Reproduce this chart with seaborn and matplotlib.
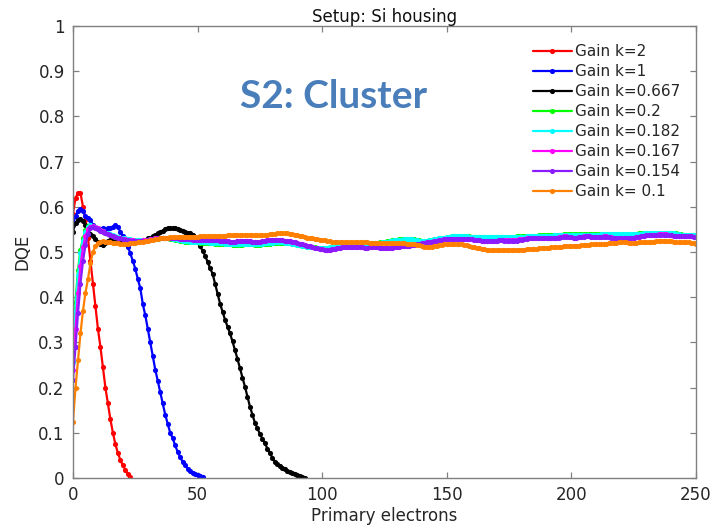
import numpy as np
import pandas as pd
import matplotlib
matplotlib.use("Agg")
import matplotlib.pyplot as plt
import seaborn as sns

# ---------------------------------------------------------------------------
# DQE versus number of primary electrons for several gain settings
# (one sample per primary electron, starting at 0)
# ---------------------------------------------------------------------------
labels = ["Gain k=2", "Gain k=1", "Gain k=0.667", "Gain k=0.2",
          "Gain k=0.182", "Gain k=0.167", "Gain k=0.154", "Gain k= 0.1"]
colors = ["#ff0000", "#0000ff", "#000000", "#00ff00",
          "#00ffff", "#ff00ff", "#8c1aff", "#ff8000"]

dqe_k2 = [0.585, 0.62, 0.63, 0.63, 0.60, 0.57, 0.53, 0.48, 0.43, 0.38,
          0.33, 0.29, 0.245, 0.20, 0.165, 0.13, 0.10, 0.075, 0.055, 0.04,
          0.028, 0.018, 0.008, 0.002]

dqe_k1 = [0.56, 0.58, 0.59, 0.595, 0.59, 0.58, 0.575, 0.57, 0.56, 0.555,
          0.55, 0.55, 0.553, 0.55, 0.552, 0.553, 0.556, 0.56, 0.555, 0.545,
          0.535, 0.525, 0.512, 0.497, 0.48, 0.463, 0.44, 0.42, 0.385, 0.36,
          0.33, 0.30, 0.27, 0.24, 0.215, 0.19, 0.165, 0.14, 0.12, 0.10,
          0.088, 0.072, 0.058, 0.046, 0.036, 0.029, 0.021, 0.015, 0.011, 0.008,
          0.006, 0.004, 0.003]

dqe_k0667 = [0.545, 0.565, 0.57, 0.572, 0.568, 0.56, 0.55, 0.54, 0.535, 0.528,
             0.522, 0.518, 0.515, 0.52, 0.524, 0.527, 0.527, 0.525, 0.523, 0.522,
             0.522, 0.521, 0.52, 0.52, 0.521, 0.522, 0.523, 0.524, 0.525, 0.527,
             0.53, 0.532, 0.535, 0.538, 0.541, 0.544, 0.547, 0.55, 0.552, 0.553,
             0.553, 0.552, 0.55, 0.548, 0.546, 0.545, 0.543, 0.541, 0.537, 0.53,
             0.522, 0.513, 0.503, 0.492, 0.478, 0.464, 0.452, 0.43, 0.408, 0.386,
             0.368, 0.35, 0.335, 0.32, 0.302, 0.283, 0.263, 0.243, 0.222, 0.202,
             0.18, 0.158, 0.14, 0.122, 0.11, 0.097, 0.087, 0.077, 0.065, 0.055,
             0.045, 0.036, 0.03, 0.026, 0.022, 0.019, 0.016, 0.013, 0.011, 0.009,
             0.007, 0.005, 0.003, 0.001]

dqe_k02 = [0.276, 0.39, 0.46, 0.505, 0.53, 0.548, 0.557, 0.56, 0.558, 0.555,
           0.552, 0.549, 0.546, 0.543, 0.54, 0.538, 0.536, 0.534, 0.532, 0.531,
           0.53, 0.529, 0.528, 0.527, 0.526, 0.525, 0.525, 0.525, 0.525, 0.525,
           0.526, 0.527, 0.528, 0.529, 0.529, 0.53, 0.53, 0.53, 0.53, 0.529,
           0.528, 0.527, 0.526, 0.525, 0.524, 0.523, 0.522, 0.522, 0.521, 0.521,
           0.521, 0.52, 0.52, 0.519, 0.519, 0.519, 0.519, 0.518, 0.518, 0.518,
           0.518, 0.517, 0.517, 0.517, 0.516, 0.516, 0.516, 0.516, 0.516, 0.517,
           0.517, 0.517, 0.517, 0.516, 0.516, 0.516, 0.517, 0.517, 0.518, 0.518,
           0.519, 0.519, 0.52, 0.52, 0.52, 0.52, 0.519, 0.519, 0.518, 0.517,
           0.516, 0.515, 0.514, 0.513, 0.512, 0.511, 0.51, 0.51, 0.509, 0.509,
           0.509, 0.509, 0.509, 0.51, 0.511, 0.512, 0.513, 0.514, 0.515, 0.515,
           0.516, 0.516, 0.516, 0.517, 0.517, 0.517, 0.517, 0.518, 0.518, 0.519,
           0.519, 0.52, 0.52, 0.521, 0.522, 0.523, 0.524, 0.525, 0.526, 0.527,
           0.527, 0.528, 0.528, 0.528, 0.528, 0.528, 0.528, 0.528, 0.527, 0.526,
           0.525, 0.525, 0.525, 0.526, 0.527, 0.528, 0.529, 0.53, 0.531, 0.532,
           0.533, 0.534, 0.535, 0.535, 0.535, 0.535, 0.535, 0.535, 0.535, 0.535,
           0.534, 0.534, 0.534, 0.534, 0.534, 0.534, 0.534, 0.534, 0.534, 0.534,
           0.534, 0.534, 0.534, 0.534, 0.534, 0.534, 0.534, 0.534, 0.535, 0.535,
           0.535, 0.535, 0.535, 0.535, 0.536, 0.536, 0.536, 0.537, 0.537, 0.537,
           0.537, 0.537, 0.537, 0.537, 0.538, 0.538, 0.538, 0.539, 0.539, 0.539,
           0.539, 0.539, 0.539, 0.539, 0.539, 0.539, 0.539, 0.539, 0.539, 0.539,
           0.539, 0.539, 0.539, 0.54, 0.54, 0.54, 0.54, 0.54, 0.54, 0.54,
           0.54, 0.54, 0.54, 0.54, 0.54, 0.54, 0.54, 0.541, 0.541, 0.541,
           0.541, 0.542, 0.542, 0.543, 0.543, 0.543, 0.543, 0.543, 0.543, 0.543,
           0.543, 0.542, 0.541, 0.54, 0.539, 0.538, 0.538, 0.538, 0.538, 0.538,
           0.538]

dqe_k0182 = [0.257, 0.37, 0.45, 0.497, 0.525, 0.545, 0.555, 0.559, 0.558, 0.555,
             0.552, 0.549, 0.546, 0.543, 0.541, 0.539, 0.537, 0.535, 0.533, 0.532,
             0.531, 0.53, 0.529, 0.528, 0.527, 0.526, 0.526, 0.526, 0.526, 0.526,
             0.527, 0.528, 0.529, 0.53, 0.53, 0.531, 0.531, 0.531, 0.53, 0.53,
             0.529, 0.528, 0.527, 0.526, 0.525, 0.524, 0.524, 0.523, 0.523, 0.522,
             0.522, 0.522, 0.521, 0.521, 0.521, 0.52, 0.52, 0.52, 0.519, 0.519,
             0.519, 0.518, 0.518, 0.518, 0.518, 0.517, 0.517, 0.517, 0.517, 0.518,
             0.518, 0.518, 0.517, 0.517, 0.517, 0.518, 0.518, 0.519, 0.519, 0.52,
             0.52, 0.521, 0.521, 0.521, 0.521, 0.52, 0.52, 0.519, 0.518, 0.517,
             0.516, 0.515, 0.514, 0.513, 0.512, 0.511, 0.51, 0.509, 0.509, 0.508,
             0.508, 0.508, 0.509, 0.51, 0.511, 0.512, 0.513, 0.514, 0.514, 0.515,
             0.515, 0.516, 0.516, 0.516, 0.517, 0.517, 0.517, 0.518, 0.518, 0.518,
             0.519, 0.519, 0.52, 0.52, 0.521, 0.522, 0.523, 0.524, 0.525, 0.526,
             0.527, 0.527, 0.527, 0.528, 0.528, 0.528, 0.528, 0.527, 0.526, 0.525,
             0.524, 0.524, 0.525, 0.526, 0.527, 0.528, 0.529, 0.53, 0.531, 0.532,
             0.533, 0.534, 0.535, 0.536, 0.536, 0.536, 0.536, 0.535, 0.535, 0.534,
             0.534, 0.533, 0.533, 0.533, 0.533, 0.533, 0.533, 0.533, 0.533, 0.533,
             0.533, 0.533, 0.533, 0.533, 0.533, 0.533, 0.533, 0.534, 0.534, 0.534,
             0.534, 0.534, 0.535, 0.535, 0.535, 0.536, 0.536, 0.536, 0.536, 0.536,
             0.536, 0.536, 0.536, 0.537, 0.537, 0.537, 0.538, 0.538, 0.538, 0.538,
             0.538, 0.538, 0.538, 0.538, 0.538, 0.538, 0.538, 0.538, 0.538, 0.538,
             0.538, 0.538, 0.539, 0.539, 0.539, 0.539, 0.539, 0.539, 0.539, 0.539,
             0.539, 0.539, 0.539, 0.539, 0.539, 0.539, 0.54, 0.54, 0.54, 0.541,
             0.541, 0.542, 0.542, 0.542, 0.543, 0.543, 0.543, 0.543, 0.543, 0.542,
             0.542, 0.541, 0.54, 0.539, 0.538, 0.537, 0.537, 0.537, 0.537, 0.537,
             0.537]

dqe_k0167 = [0.24, 0.33, 0.41, 0.47, 0.51, 0.535, 0.55, 0.556, 0.557, 0.555,
             0.552, 0.549, 0.546, 0.543, 0.54, 0.538, 0.536, 0.534, 0.532, 0.531,
             0.529, 0.528, 0.527, 0.526, 0.526, 0.525, 0.525, 0.525, 0.526, 0.526,
             0.527, 0.528, 0.529, 0.53, 0.531, 0.531, 0.532, 0.532, 0.532, 0.531,
             0.531, 0.53, 0.53, 0.529, 0.529, 0.528, 0.528, 0.528, 0.527, 0.527,
             0.527, 0.526, 0.526, 0.526, 0.527, 0.527, 0.527, 0.526, 0.526, 0.525,
             0.525, 0.524, 0.524, 0.523, 0.523, 0.523, 0.524, 0.524, 0.525, 0.525,
             0.525, 0.524, 0.523, 0.523, 0.522, 0.523, 0.524, 0.525, 0.526, 0.526,
             0.526, 0.526, 0.527, 0.527, 0.526, 0.525, 0.525, 0.524, 0.523, 0.521,
             0.52, 0.518, 0.517, 0.515, 0.514, 0.513, 0.511, 0.509, 0.508, 0.507,
             0.506, 0.505, 0.505, 0.505, 0.506, 0.507, 0.508, 0.509, 0.51, 0.51,
             0.51, 0.511, 0.511, 0.511, 0.511, 0.51, 0.51, 0.509, 0.509, 0.51,
             0.51, 0.51, 0.51, 0.509, 0.509, 0.508, 0.508, 0.508, 0.509, 0.51,
             0.511, 0.512, 0.513, 0.513, 0.514, 0.514, 0.515, 0.516, 0.517, 0.518,
             0.519, 0.52, 0.521, 0.522, 0.523, 0.524, 0.525, 0.526, 0.527, 0.528,
             0.528, 0.528, 0.528, 0.528, 0.528, 0.528, 0.529, 0.529, 0.529, 0.528,
             0.528, 0.527, 0.527, 0.526, 0.525, 0.525, 0.524, 0.524, 0.524, 0.525,
             0.525, 0.526, 0.526, 0.526, 0.526, 0.526, 0.526, 0.526, 0.527, 0.528,
             0.528, 0.529, 0.53, 0.53, 0.53, 0.531, 0.531, 0.532, 0.532, 0.532,
             0.531, 0.531, 0.531, 0.532, 0.532, 0.533, 0.534, 0.535, 0.535, 0.534,
             0.533, 0.532, 0.532, 0.533, 0.534, 0.535, 0.535, 0.535, 0.534, 0.533,
             0.533, 0.533, 0.534, 0.535, 0.535, 0.534, 0.533, 0.532, 0.531, 0.53,
             0.53, 0.53, 0.53, 0.53, 0.531, 0.532, 0.533, 0.534, 0.535, 0.536,
             0.537, 0.538, 0.538, 0.538, 0.538, 0.539, 0.539, 0.539, 0.539, 0.538,
             0.537, 0.536, 0.535, 0.535, 0.535, 0.535, 0.535, 0.535, 0.535, 0.534,
             0.534]

dqe_k0154 = [0.217, 0.29, 0.365, 0.43, 0.48, 0.515, 0.54, 0.552, 0.555, 0.553,
             0.55, 0.547, 0.544, 0.541, 0.539, 0.537, 0.535, 0.533, 0.531, 0.53,
             0.528, 0.527, 0.526, 0.525, 0.525, 0.524, 0.524, 0.524, 0.525, 0.525,
             0.526, 0.527, 0.528, 0.529, 0.53, 0.53, 0.531, 0.531, 0.532, 0.531,
             0.531, 0.53, 0.53, 0.529, 0.529, 0.528, 0.528, 0.528, 0.527, 0.527,
             0.527, 0.526, 0.526, 0.526, 0.527, 0.527, 0.527, 0.526, 0.526, 0.525,
             0.525, 0.524, 0.524, 0.523, 0.523, 0.523, 0.524, 0.524, 0.525, 0.525,
             0.525, 0.524, 0.523, 0.523, 0.522, 0.523, 0.524, 0.525, 0.526, 0.526,
             0.526, 0.526, 0.527, 0.527, 0.526, 0.525, 0.525, 0.524, 0.523, 0.521,
             0.52, 0.518, 0.517, 0.515, 0.514, 0.513, 0.511, 0.509, 0.508, 0.507,
             0.506, 0.505, 0.505, 0.505, 0.506, 0.507, 0.508, 0.509, 0.51, 0.51,
             0.51, 0.511, 0.511, 0.511, 0.511, 0.51, 0.51, 0.509, 0.509, 0.51,
             0.51, 0.51, 0.51, 0.509, 0.509, 0.508, 0.508, 0.508, 0.509, 0.51,
             0.511, 0.512, 0.513, 0.513, 0.514, 0.514, 0.515, 0.516, 0.517, 0.518,
             0.519, 0.52, 0.521, 0.522, 0.523, 0.524, 0.525, 0.526, 0.527, 0.528,
             0.528, 0.528, 0.528, 0.528, 0.528, 0.528, 0.529, 0.529, 0.529, 0.528,
             0.528, 0.527, 0.527, 0.526, 0.525, 0.525, 0.524, 0.524, 0.524, 0.525,
             0.525, 0.527, 0.526, 0.525, 0.525, 0.525, 0.525, 0.525, 0.525, 0.526,
             0.527, 0.528, 0.529, 0.53, 0.53, 0.53, 0.531, 0.531, 0.532, 0.532,
             0.532, 0.531, 0.531, 0.531, 0.532, 0.532, 0.533, 0.534, 0.534, 0.534,
             0.533, 0.532, 0.532, 0.533, 0.534, 0.534, 0.535, 0.535, 0.534, 0.533,
             0.533, 0.533, 0.534, 0.534, 0.534, 0.533, 0.532, 0.531, 0.53, 0.53,
             0.53, 0.53, 0.53, 0.53, 0.531, 0.532, 0.533, 0.534, 0.535, 0.536,
             0.537, 0.537, 0.538, 0.538, 0.538, 0.538, 0.538, 0.538, 0.538, 0.537,
             0.537, 0.536, 0.535, 0.535, 0.535, 0.535, 0.535, 0.535, 0.535, 0.534,
             0.534]

dqe_k01 = [0.125, 0.2, 0.26, 0.32, 0.37, 0.41, 0.44, 0.475, 0.5, 0.513,
           0.52, 0.523, 0.524, 0.523, 0.522, 0.521, 0.52, 0.519, 0.519, 0.518,
           0.518, 0.518, 0.518, 0.519, 0.519, 0.52, 0.521, 0.522, 0.523, 0.524,
           0.525, 0.526, 0.527, 0.528, 0.529, 0.53, 0.531, 0.532, 0.532, 0.533,
           0.533, 0.533, 0.533, 0.534, 0.534, 0.534, 0.534, 0.534, 0.534, 0.534,
           0.534, 0.535, 0.535, 0.535, 0.535, 0.536, 0.536, 0.536, 0.536, 0.536,
           0.536, 0.536, 0.537, 0.537, 0.537, 0.537, 0.537, 0.537, 0.538, 0.538,
           0.538, 0.538, 0.538, 0.537, 0.537, 0.537, 0.537, 0.538, 0.538, 0.539,
           0.539, 0.54, 0.541, 0.541, 0.541, 0.541, 0.541, 0.54, 0.539, 0.538,
           0.537, 0.536, 0.535, 0.534, 0.532, 0.531, 0.53, 0.529, 0.528, 0.527,
           0.527, 0.526, 0.525, 0.524, 0.523, 0.522, 0.522, 0.522, 0.522, 0.521,
           0.521, 0.521, 0.521, 0.522, 0.522, 0.522, 0.521, 0.521, 0.521, 0.52,
           0.52, 0.52, 0.519, 0.519, 0.519, 0.519, 0.519, 0.519, 0.519, 0.519,
           0.519, 0.519, 0.519, 0.519, 0.518, 0.518, 0.517, 0.517, 0.516, 0.515,
           0.513, 0.512, 0.511, 0.511, 0.512, 0.513, 0.514, 0.515, 0.516, 0.517,
           0.518, 0.518, 0.518, 0.518, 0.517, 0.517, 0.517, 0.516, 0.515, 0.513,
           0.512, 0.511, 0.509, 0.508, 0.507, 0.506, 0.505, 0.505, 0.504, 0.504,
           0.504, 0.504, 0.504, 0.504, 0.505, 0.505, 0.505, 0.505, 0.505, 0.505,
           0.505, 0.505, 0.506, 0.506, 0.507, 0.507, 0.507, 0.508, 0.508, 0.508,
           0.509, 0.509, 0.51, 0.511, 0.511, 0.512, 0.512, 0.513, 0.513, 0.513,
           0.513, 0.514, 0.514, 0.514, 0.515, 0.515, 0.516, 0.516, 0.517, 0.517,
           0.518, 0.518, 0.518, 0.518, 0.518, 0.519, 0.519, 0.52, 0.52, 0.521,
           0.521, 0.521, 0.521, 0.52, 0.52, 0.52, 0.52, 0.521, 0.521, 0.521,
           0.522, 0.522, 0.523, 0.523, 0.524, 0.525, 0.525, 0.525, 0.525, 0.524,
           0.524, 0.523, 0.522, 0.522, 0.522, 0.522, 0.521, 0.521, 0.52, 0.519,
           0.518]

series = [dqe_k2, dqe_k1, dqe_k0667, dqe_k02, dqe_k0182, dqe_k0167, dqe_k0154, dqe_k01]

x_ticks = [0, 50, 100, 150, 200, 250]
y_ticks = [0, 0.1, 0.2, 0.3, 0.4, 0.5, 0.6, 0.7, 0.8, 0.9, 1]
y_tick_labels = ["0", "0.1", "0.2", "0.3", "0.4", "0.5", "0.6", "0.7", "0.8", "0.9", "1"]

# long-form table: one row per sample
frames = []
for label, values in zip(labels, series):
    frames.append(pd.DataFrame({"electrons": np.arange(len(values)),
                                "dqe": values,
                                "gain": label}))
data = pd.concat(frames, ignore_index=True)

sns.set_theme(style="white")
plt.rcParams["font.family"] = ["DejaVu Sans"]

axis_grey = "#808080"
text_dark = "#262626"

fig = plt.figure(figsize=(7.13, 5.30), dpi=100)
ax = fig.add_axes([0.1024, 0.0981, 0.8738, 0.8529])

for label, color in zip(labels, colors):
    sns.lineplot(data=data[data["gain"] == label], x="electrons", y="dqe",
                 color=color, linewidth=1.6, marker="o", markersize=3.7,
                 markeredgewidth=0, label=label, ax=ax, estimator=None,
                 sort=False)

ax.set_xlim(0, 250)
ax.set_ylim(0, 1)
ax.set_xticks(x_ticks)
ax.set_yticks(y_ticks)
ax.set_yticklabels(y_tick_labels)

for side in ["left", "right", "top", "bottom"]:
    ax.spines[side].set_visible(True)
    ax.spines[side].set_color(axis_grey)
    ax.spines[side].set_linewidth(1.0)

ax.tick_params(axis="both", which="both", direction="in", length=4.5,
               width=0.9, color=axis_grey, labelcolor=text_dark,
               labelsize=12, top=True, right=True, bottom=True, left=True,
               pad=6)

ax.set_xlabel("Primary electrons", fontsize=12, color=text_dark, labelpad=2)
ax.set_ylabel("DQE", fontsize=12, color=text_dark, labelpad=5)
ax.set_title("Setup: Si housing", fontsize=12, color="#111111", pad=3)

ax.text(0.419, 0.843, "S2: Cluster", transform=ax.transAxes,
        ha="center", va="center", fontsize=28, fontweight="bold",
        family=["Lato", "DejaVu Sans"], color="#4a7ebb")

leg = ax.legend(loc="upper left", bbox_to_anchor=(0.738, 0.96),
                frameon=False, fontsize=11, handlelength=2.55,
                handletextpad=0.2, labelspacing=0.33, borderpad=0,
                borderaxespad=0, numpoints=1)
for t in leg.get_texts():
    t.set_color(text_dark)

fig.savefig("out.png", dpi=100)
